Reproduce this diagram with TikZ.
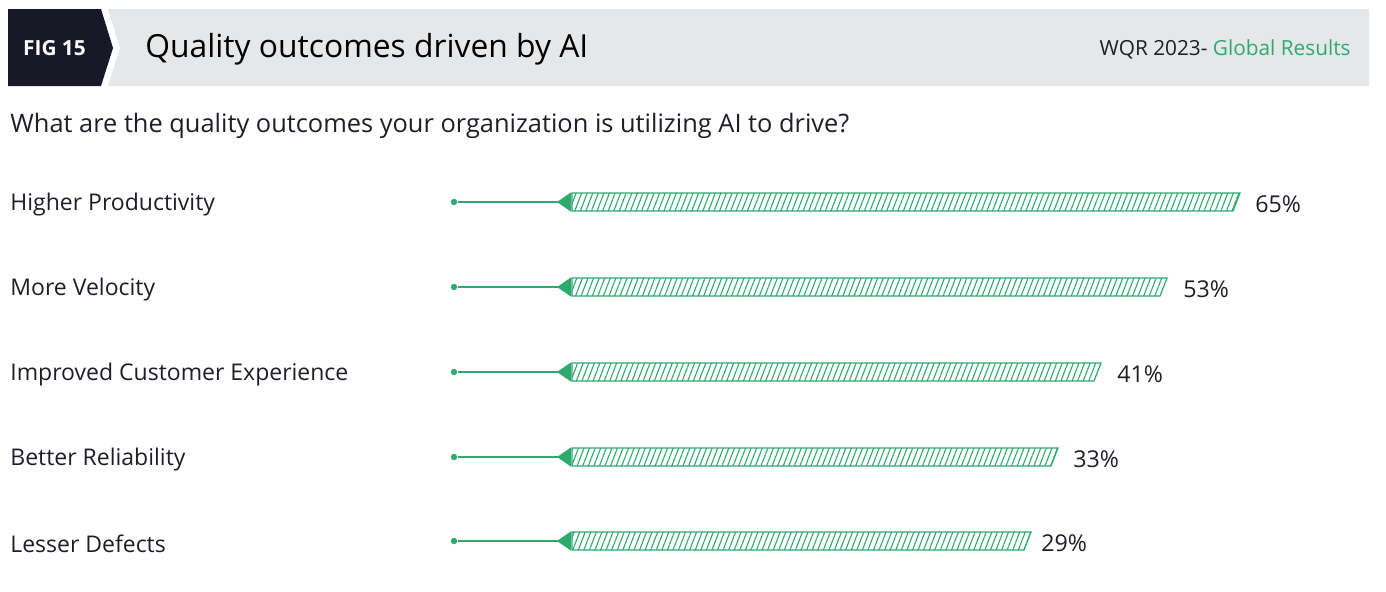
\documentclass[tikz,border=0pt]{standalone}
\usepackage{fontspec}
\setmainfont{Open Sans}
\usepackage{tikz}
\usetikzlibrary{arrows.meta,patterns.meta}

\definecolor{barGreen}{RGB}{46,170,110}
\definecolor{figDark}{RGB}{24,24,38}
\definecolor{bandGray}{RGB}{230,231,232}
\definecolor{textDark}{RGB}{30,30,40}

\begin{document}
\begin{tikzpicture}[x=0.5pt,y=-0.5pt]
		\useasboundingbox (0,0) rectangle (1386,591);
		\begin{scope}
            [
                styleLabel/.style={anchor=west, inner sep=0, text=textDark, font=\fontsize{11.5}{13}\selectfont},
				styleDot/.style={circle, fill=barGreen, inner sep=0, minimum size=3.2pt},
				styleBar/.style={draw=barGreen, line width=0.6pt,
					pattern={Lines[angle=69, distance=2.6pt, line width=0.55pt]}, pattern color=barGreen},
				stylePct/.style={anchor=west, inner sep=0, text=textDark, font=\fontsize{11.6}{13}\selectfont},
            ]
			% header band
			\fill[bandGray] (108,9) -- (1369,9) -- (1369,86) -- (108,86) -- (120,48) -- cycle;
			\fill[figDark] (8,9) -- (101,9) -- (113,48) -- (101,86) -- (8,86) -- cycle;
			\node(fig)[anchor=center, text=white, font=\bfseries\fontsize{10.4}{12}\selectfont] at (54.5,48) {FIG 15};
			\node(title)[anchor=west, inner sep=0, text=black, font=\fontsize{15.9}{18}\selectfont] at (145,49) {Quality outcomes driven by AI};
			\node(src)[anchor=east, inner sep=0, font=\fontsize{10.4}{12}\selectfont] at (1351,49) {\textcolor{textDark}{WQR 2023-} \textcolor{barGreen}{Global Results}};
			\node(question)[styleLabel, font=\fontsize{12.7}{15}\selectfont] at (10,126) {What are the quality outcomes your organization is utilizing AI to drive?};

			% Higher Productivity
			\node(l1)[styleLabel] at (10,205) {Higher Productivity};
			\node(d1)[styleDot] at (454,202) {};
			\coordinate(b1) at (571,202);
			\draw[styleBar] (572,193) -- (1240,193) -- (1233,211) -- (572,211) -- cycle;
			\node(p1)[stylePct] at (1255,204) {65\%};

			% More Velocity
			\node(l2)[styleLabel] at (10,290) {More Velocity};
			\node(d2)[styleDot] at (454,287) {};
			\coordinate(b2) at (571,287);
			\draw[styleBar] (572,278) -- (1167,278) -- (1160,296) -- (572,296) -- cycle;
			\node(p2)[stylePct] at (1183,289) {53\%};

			% Improved Customer Experience
			\node(l3)[styleLabel] at (10,375) {Improved Customer Experience};
			\node(d3)[styleDot] at (454,372) {};
			\coordinate(b3) at (571,372);
			\draw[styleBar] (572,363) -- (1101,363) -- (1094,381) -- (572,381) -- cycle;
			\node(p3)[stylePct] at (1117,374) {41\%};

			% Better Reliability
			\node(l4)[styleLabel] at (10,460) {Better Reliability};
			\node(d4)[styleDot] at (454,457) {};
			\coordinate(b4) at (571,457);
			\draw[styleBar] (572,448) -- (1058,448) -- (1051,466) -- (572,466) -- cycle;
			\node(p4)[stylePct] at (1073,459) {33\%};

			% Lesser Defects
			\node(l5)[styleLabel] at (10,544) {Lesser Defects};
			\node(d5)[styleDot] at (454,541) {};
			\coordinate(b5) at (571,541);
			\draw[styleBar] (572,532) -- (1031,532) -- (1024,550) -- (572,550) -- cycle;
			\node(p5)[stylePct] at (1041,543) {29\%};
		\end{scope}
		\begin{scope}
            [styleLead/.style={draw=barGreen, line width=0.6pt, -{Triangle[reversed, length=7pt, width=9.5pt]}}]
            \draw[styleLead] (d1) -- (b1);
            \draw[styleLead] (d2) -- (b2);
            \draw[styleLead] (d3) -- (b3);
            \draw[styleLead] (d4) -- (b4);
            \draw[styleLead] (d5) -- (b5);
		\end{scope}
    \end{tikzpicture}
\end{document}
